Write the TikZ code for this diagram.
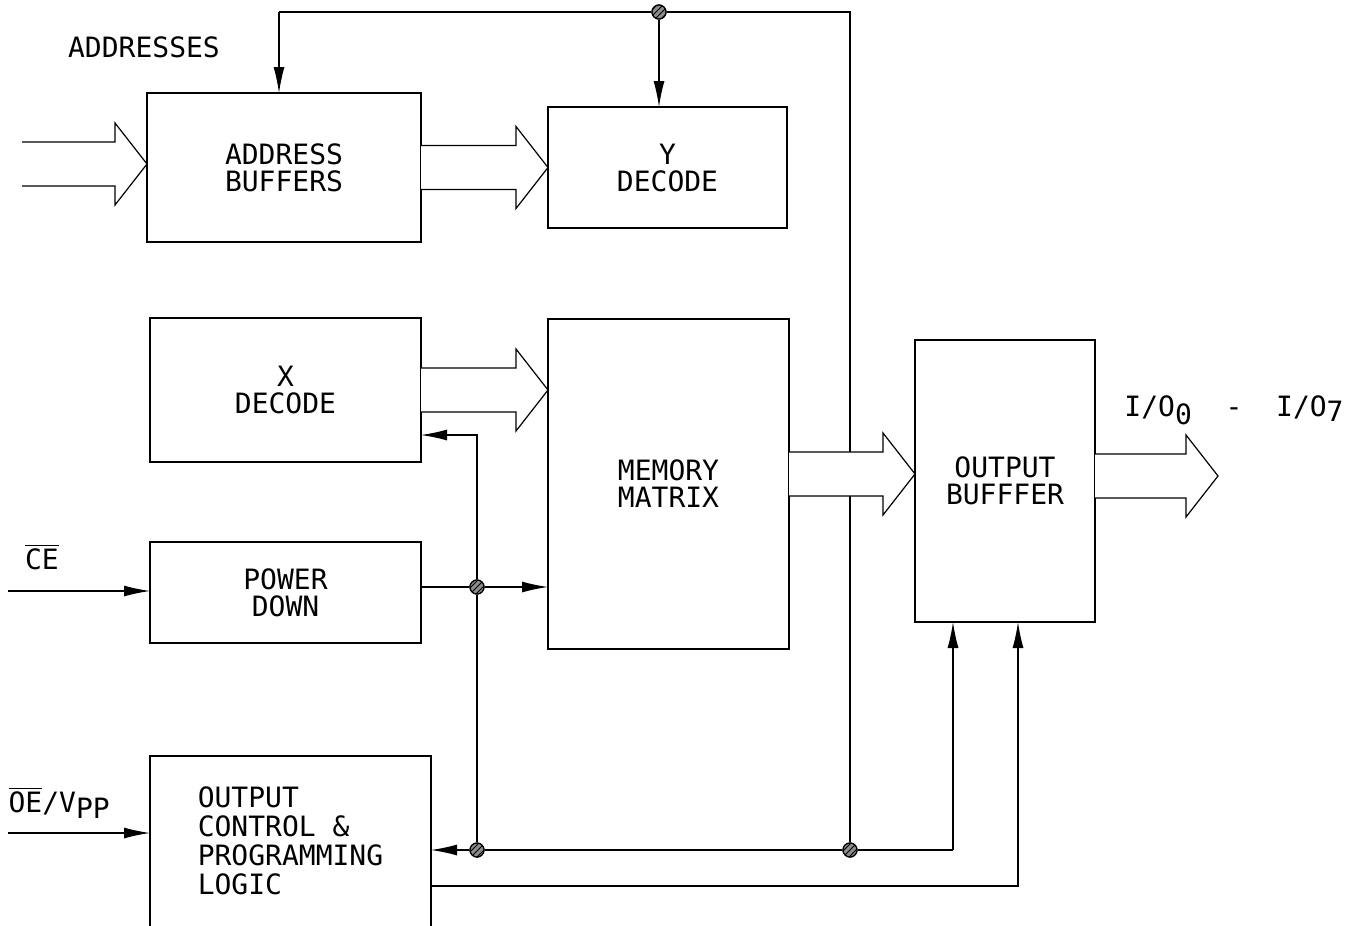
\documentclass[tikz,border=0pt]{standalone}
\usepackage{fontspec}
\setmonofont{DejaVu Sans Mono}
\usepackage{tikz}
\usetikzlibrary{positioning,calc,arrows.meta,patterns}

% wide bus arrow from #1 to the tip #2
\newcommand{\busarrow}[2]{%
  \draw[bus] ($(#1 |- #2)+(0,-22)$) -- ($(#2)+(-32,-22)$) -- ($(#2)+(-32,-41)$)
    -- (#2) -- ($(#2)+(-32,41)$) -- ($(#2)+(-32,22)$) -- ($(#1 |- #2)+(0,22)$);}

\begin{document}
\begin{tikzpicture}[x=0.5pt, y=-0.5pt, line width=0.6pt]

		\tikzstyle{box} = [draw=black, rectangle, inner sep=0pt, outer sep=0pt, align=center, font=\ttfamily\fontsize{14}{13.5}\selectfont]
		\tikzstyle{lbl} = [inner sep=0pt, font=\ttfamily\fontsize{14}{14}\selectfont]
		\tikzstyle{bus} = [draw=black, fill=white, line width=0.6pt]
		\tikzstyle{sig} = [-{Latex[length=13pt, width=5.5pt]}, draw=black]
		\tikzstyle{dot} = [circle, draw=black, fill=black!45, postaction={pattern=north east lines}, minimum size=7pt, inner sep=0pt]

		\useasboundingbox (0,0) rectangle (1349,926);

		\node[box, minimum width=137pt, minimum height=74.5pt] (adr) at (284,167.5) {ADDRESS\\BUFFERS};
		\node[box, minimum width=119.5pt, minimum height=60.5pt] (ydec) at (667.5,167.5) {Y\\DECODE};
		\node[box, minimum width=135.5pt, minimum height=72pt] (xdec) at (285.5,390) {X\\DECODE};
		\node[box, minimum width=120.5pt, minimum height=165pt] (mem) at (668.5,484) {MEMORY\\MATRIX};
		\node[box, minimum width=135.5pt, minimum height=50.5pt] (pwr) at (285.5,592.5) {POWER\\DOWN};
		\node[box, minimum width=90pt, minimum height=141pt] (obuf) at (1005,481) {OUTPUT\\BUFFFER};
		\node[box, draw=none, align=left, minimum width=140.5pt, minimum height=85pt,
			font=\ttfamily\fontsize{14}{14.5}\selectfont] (ctrl) at (290.5,841) {OUTPUT\\CONTROL \&\\PROGRAMMING\\LOGIC};
		\draw (ctrl.south west) -- (ctrl.north west) -- (ctrl.north east) -- (ctrl.south east);

		\node[lbl] (addrlbl) at (144,47) {ADDRESSES};
		\node[lbl] (celbl) at (42,557) {$\overline{\mbox{CE}}$};
		\node[lbl, anchor=base west] (oelbl) at (8,812) {$\overline{\mbox{OE}}$/V\raisebox{-3pt}{PP}};
		\node[lbl] (iolbl) at (1234,410) {I/O\raisebox{-4pt}{0}~~-~~I/O\raisebox{-2.5pt}{7}};

		\coordinate (tl) at (279,12);
		\coordinate (tr) at (850,12);
		\coordinate (addrin) at (22,164);
		\coordinate (cein) at (8,591);
		\coordinate (oein) at (8,833);
		\coordinate (xfb) at (477,435);
		\coordinate (b1) at (953,850);
		\coordinate (b2) at (1018,886);
		\coordinate (outtip) at (1218,476);

		\node[dot] (j1) at (659,12) {};
		\node[dot] (j2) at (477,587) {};
		\node[dot] (j3) at (477,850) {};
		\node[dot] (j4) at (850,850) {};

		% feedback lines
		\draw[sig] (tl) -- (adr.north -| tl);
		\draw (tl) -- (j1) -- (tr) -- (j4);
		\draw[sig] (j1) -- (ydec.north -| j1);

		\draw[sig] (cein) -- (pwr.west |- cein);
		\draw (pwr.east |- j2) -- (j2);
		\draw[sig] (j2) -- (mem.west |- j2);
		\draw (j2) -- (j3);
		\draw[sig] (j2) -- (xfb) -- (xdec.east |- xfb);

		\draw[sig] (oein) -- (ctrl.west |- oein);
		\draw[sig] (j3) -- (ctrl.east |- j3);
		\draw (j3) -- (j4) -- (b1);
		\draw[sig] (b1) -- (obuf.south -| b1);
		\draw[sig] (ctrl.east |- b2) -- (b2) -- (obuf.south -| b2);

		% bus arrows
		\busarrow{addrin}{adr.west |- addrin}
		\busarrow{adr.east}{ydec.west |- adr.east}
		\busarrow{xdec.east}{mem.west |- xdec.east}
		\coordinate (mtip) at (915,474);
		\busarrow{mem.east}{mtip}
		\busarrow{obuf.east}{outtip}

		\node[dot] at (j1) {};
		\node[dot] at (j2) {};
		\node[dot] at (j3) {};
		\node[dot] at (j4) {};

	\end{tikzpicture}
\end{document}
